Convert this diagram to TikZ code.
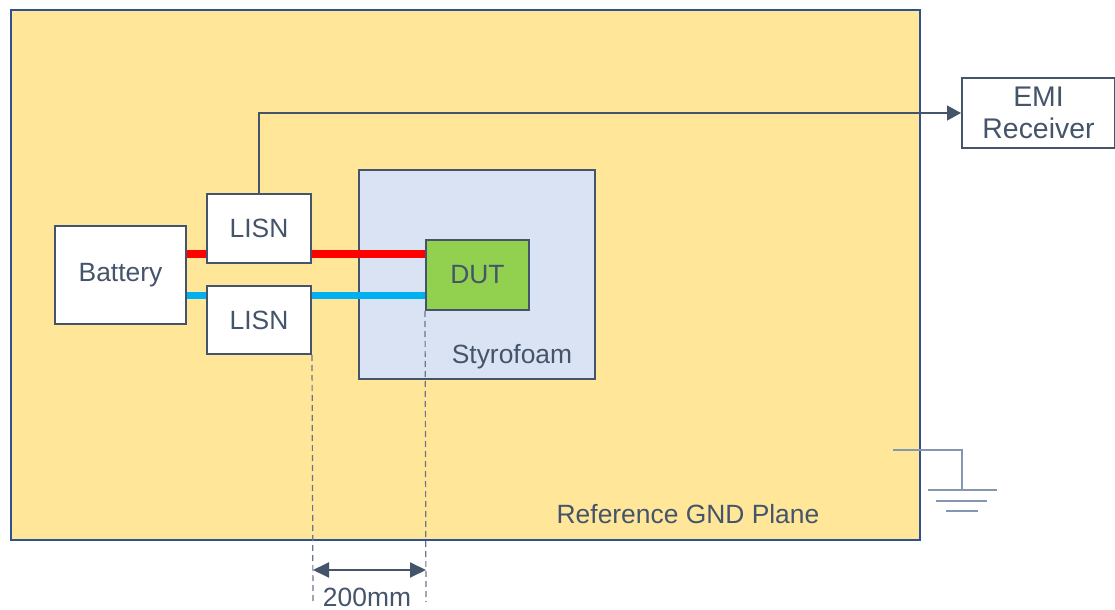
\documentclass[tikz,border=0pt]{standalone}
\usepackage{fontspec}
\setmainfont{Liberation Sans}
\usepackage{xcolor}
\definecolor{planefill}{RGB}{255,230,153}
\definecolor{planeline}{RGB}{47,82,143}
\definecolor{boxline}{RGB}{68,84,106}
\definecolor{textgray}{RGB}{68,84,106}
\definecolor{styrofill}{RGB}{218,227,243}
\definecolor{dutfill}{RGB}{146,208,80}
\definecolor{plusred}{RGB}{255,0,0}
\definecolor{minusblue}{RGB}{0,176,240}
\definecolor{gndgray}{RGB}{132,150,176}
\usepackage{tikz}
\usetikzlibrary{arrows.meta,calc}

\begin{document}
\begin{tikzpicture}[x=0.5pt,y=-0.5pt,
every node/.style={font=\fontsize{13.2}{15.5}\selectfont,text=textgray},
plane/.style={draw=planeline,line width=1pt,fill=planefill,minimum width=454.5pt,minimum height=265pt,inner sep=0pt},
blk/.style={draw=boxline,line width=1pt,fill=white,align=center,inner sep=0pt},
styro/.style={draw=boxline,line width=1pt,fill=styrofill,minimum width=118pt,minimum height=104.5pt,inner sep=0pt},
dut/.style={draw=boxline,line width=1pt,fill=dutfill,minimum width=51.5pt,minimum height=35pt,inner sep=0pt},
plus/.style={draw=plusred,line width=3.5pt},
minus/.style={draw=minusblue,line width=3.5pt},
sig/.style={-{Triangle[length=7pt,width=7.5pt]},draw=boxline,line width=0.7pt},
gnd/.style={draw=gndgray,line width=0.8pt},
dimln/.style={draw=boxline!80,line width=0.6pt,dash pattern=on 3pt off 2pt},
dimarr/.style={{Triangle[length=8pt,width=7.5pt]}-{Triangle[length=8pt,width=7.5pt]},draw=boxline,line width=1pt}]
\useasboundingbox (0,0) rectangle (1115,610);
\node[plane] (gp) at (465.5,275) {};
\node[blk,minimum width=76.5pt,minimum height=35pt,font=\fontsize{14.2}{16}\selectfont] (emi) at (1038.5,113) {EMI\\Receiver};
\node[styro] (sf) at (477,274.5) {};
\node[blk,minimum width=65.5pt,minimum height=49pt] (bat) at (120.5,275) {Battery};
\node[dut] (dut) at (477.5,275) {DUT};
\draw[plus] ($(bat.east)+(0,-21)$) -- ($(dut.west)+(0,-21)$);
\draw[minus] ($(bat.east)+(0,20)$) -- ($(dut.west)+(0,20)$);
\node[blk,minimum width=52pt,minimum height=34.5pt] (lisn1) at (259,228.5) {LISN};
\node[blk,minimum width=52pt,minimum height=34pt] (lisn2) at (259,320) {LISN};
\draw[sig] (lisn1.north) |- (emi.west);
\node (sflbl) at (512,357) {Styrofoam};
\node (gplbl) at (688,514) {Reference GND Plane};
\coordinate (gin) at (893,450);
\coordinate (gtop) at (962,490);
\draw[gnd] (gin) -| (gtop);
\draw[gnd] ($(gtop)+(-34,0)$) -- ($(gtop)+(35,0)$);
\draw[gnd] ($(gtop)+(-26,11)$) -- ($(gtop)+(25,11)$);
\draw[gnd] ($(gtop)+(-16,21)$) -- ($(gtop)+(16,21)$);
\coordinate (dimL) at (313,570);
\coordinate (dimR) at (426,570);
\draw[dimln] (lisn2.south east) -- ($(dimL)+(0,32)$);
\draw[dimln] (dut.south west) -- ($(dimR)+(0,32)$);
\draw[dimarr] (dimL) -- (dimR);
\node (dimlbl) at (367,597) {200mm};
\end{tikzpicture}
\end{document}
